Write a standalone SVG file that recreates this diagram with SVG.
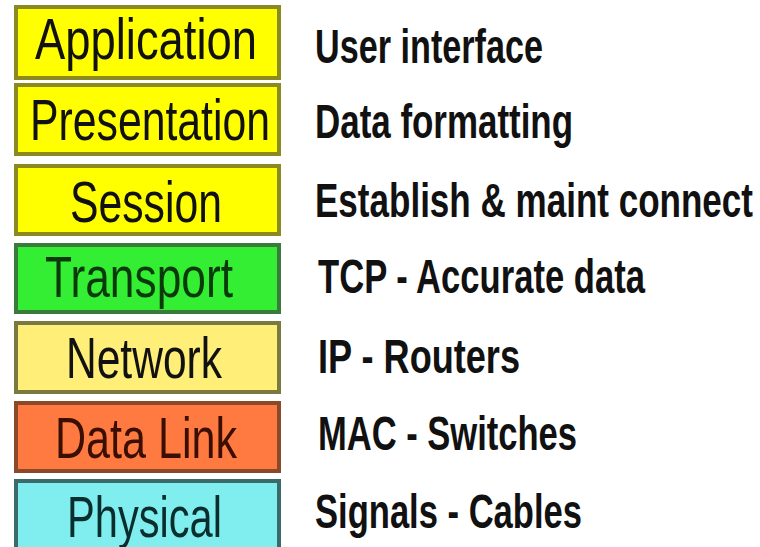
<svg xmlns="http://www.w3.org/2000/svg" width="760" height="547" viewBox="0 0 760 547">
<style>
.box{stroke-width:4}
.lbl{font-family:"Liberation Sans Narrow","Liberation Sans",Arial,sans-serif;font-size:58px}
.desc{font-family:"Liberation Sans Narrow","Liberation Sans",Arial,sans-serif;font-size:49px;font-weight:bold;fill:#111}
</style>
<rect width="760" height="547" fill="#ffffff"/>
<g id="application">
<rect class="box" x="16" y="7" width="263" height="71" fill="#ffff00" stroke="#8a8a20"/>
<text class="lbl" x="35" y="59" textLength="222" lengthAdjust="spacingAndGlyphs" fill="#111">Application</text>
<text class="desc" x="315" y="63" textLength="228" lengthAdjust="spacingAndGlyphs">User interface</text>
</g>
<g id="presentation">
<rect class="box" x="16" y="85" width="263" height="69" fill="#ffff00" stroke="#8a8a20"/>
<text class="lbl" x="30" y="140" textLength="240" lengthAdjust="spacingAndGlyphs" fill="#111">Presentation</text>
<text class="desc" x="315" y="138" textLength="258" lengthAdjust="spacingAndGlyphs">Data formatting</text>
</g>
<g id="session">
<rect class="box" x="16" y="166" width="263" height="68" fill="#ffff00" stroke="#8a8a20"/>
<text class="lbl" x="70" y="222" textLength="152" lengthAdjust="spacingAndGlyphs" fill="#111">Session</text>
<text class="desc" x="315" y="217" textLength="438" lengthAdjust="spacingAndGlyphs">Establish &amp; maint connect</text>
</g>
<g id="transport">
<rect class="box" x="16" y="245" width="263" height="67" fill="#33ee33" stroke="#3a7a3a"/>
<text class="lbl" x="45" y="297" textLength="188" lengthAdjust="spacingAndGlyphs" fill="#0a3a0a">Transport</text>
<text class="desc" x="318" y="293" textLength="327" lengthAdjust="spacingAndGlyphs">TCP - Accurate data</text>
</g>
<g id="network">
<rect class="box" x="16" y="323" width="263" height="69" fill="#ffee77" stroke="#7a7a40"/>
<text class="lbl" x="66" y="378" textLength="156" lengthAdjust="spacingAndGlyphs" fill="#111">Network</text>
<text class="desc" x="318" y="373" textLength="202" lengthAdjust="spacingAndGlyphs">IP - Routers</text>
</g>
<g id="datalink">
<rect class="box" x="16" y="403" width="263" height="68" fill="#ff7a40" stroke="#8a4a2a"/>
<text class="lbl" x="55" y="458" textLength="182" lengthAdjust="spacingAndGlyphs" fill="#3a0e00">Data Link</text>
<text class="desc" x="318" y="450" textLength="259" lengthAdjust="spacingAndGlyphs">MAC - Switches</text>
</g>
<g id="physical">
<rect class="box" x="16" y="481" width="263" height="80" fill="#80eeee" stroke="#3a6a6a"/>
<text class="lbl" x="67" y="537" textLength="155" lengthAdjust="spacingAndGlyphs" fill="#0a2e2e">Physical</text>
<text class="desc" x="315" y="528" textLength="267" lengthAdjust="spacingAndGlyphs">Signals - Cables</text>
</g>
<g id="connectors"></g>
</svg>
